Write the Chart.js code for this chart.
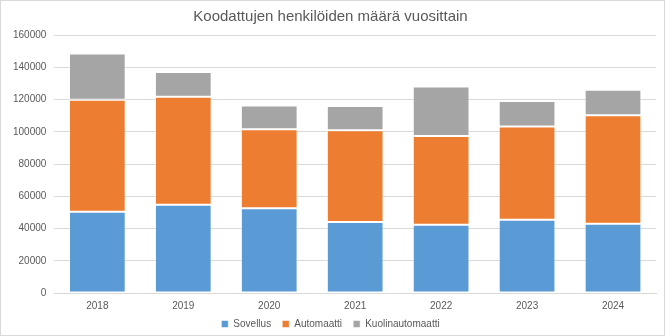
<!DOCTYPE html>
<html>
<head>
<meta charset="utf-8">
<script src="https://cdn.jsdelivr.net/npm/chart.js@4"></script>
<style>
    body { margin: 0; background: #ffffff; }
    #chartBox { width: 665px; height: 336px; box-sizing: border-box; border: 1px solid #d9d9d9; background: #ffffff; }
</style>
</head>
<body>
<div id="chartBox"><canvas id="chartYears"></canvas></div>
<script>
// Data -----------------------------------------------------------------------
var years = ['2018', '2019', '2020', '2021', '2022', '2023', '2024'];
var seriesNames = ['Sovellus', 'Automaatti', 'Kuolinautomaatti'];
var sovellus = [50400, 54800, 52500, 44000, 42400, 45500, 43000];
var automaatti = [69400, 66900, 49100, 56900, 55000, 57800, 67300];
var kuolinautomaatti = [28800, 15300, 14700, 15000, 30700, 15700, 15700];
var yTicks = [0, 20000, 40000, 60000, 80000, 100000, 120000, 140000, 160000];

var colors = Array('#5b9bd5', '#ed7d31', '#a5a5a5', '#595959', '#d9d9d9');
var fontFamily = '"Liberation Sans", Arial, sans-serif';

// Chart ----------------------------------------------------------------------
const ctx = document.getElementById('chartYears').getContext('2d');

function makeSet(label, data, color) {
    return {
        label: label,
        data: data,
        backgroundColor: color,
        borderColor: 'rgba(255,255,255,0.55)',
        borderWidth: 1,
        borderSkipped: false,
        barPercentage: 1,
        categoryPercentage: 0.66
    };
}

const chartYears = new Chart(ctx, {
    type: 'bar',
    data: {
        labels: years,
        datasets: [
            makeSet(seriesNames[0], sovellus, colors[0]),
            makeSet(seriesNames[1], automaatti, colors[1]),
            makeSet(seriesNames[2], kuolinautomaatti, colors[2])
        ]
    },
    options: {
        responsive: true,
        maintainAspectRatio: false,
        animation: false,
        layout: {
            padding: { left: 4, right: 8, top: 6, bottom: -4 }
        },
        plugins: {
            title: {
                display: true,
                text: 'Koodattujen henkilöiden määrä vuosittain',
                color: colors[3],
                font: { family: fontFamily, size: 15, weight: 'normal' },
                padding: { top: 1, bottom: 9 }
            },
            legend: {
                position: 'bottom',
                labels: {
                    color: colors[3],
                    font: { family: fontFamily, size: 10 },
                    boxWidth: 7,
                    boxHeight: 7,
                    padding: 0,
                    // no padding, so the gap between items is made with spaces
                    generateLabels: function(chart) {
                        var items = Chart.defaults.plugins.legend.labels.generateLabels(chart);
                        items.forEach(function(item, i) {
                            if (i < items.length - 1) {
                                item.text = item.text + '    ';
                            }
                        });
                        return items;
                    }
                }
            },
            tooltip: { enabled: false }
        },
        scales: {
            x: {
                stacked: true,
                grid: { display: false, drawTicks: false },
                border: { color: colors[4] },
                ticks: {
                    color: colors[3],
                    font: { family: fontFamily, size: 10 },
                    padding: 7
                }
            },
            y: {
                stacked: true,
                min: 0,
                max: 160000,
                afterBuildTicks: function(axis) {
                    axis.ticks = yTicks.map(function(v) { return { value: v }; });
                },
                grid: { color: colors[4], drawTicks: false },
                border: { display: false },
                ticks: {
                    color: colors[3],
                    font: { family: fontFamily, size: 10 },
                    padding: 8,
                    callback: function(v) { return String(v); }
                }
            }
        }
    }
});
</script>
</body>
</html>
